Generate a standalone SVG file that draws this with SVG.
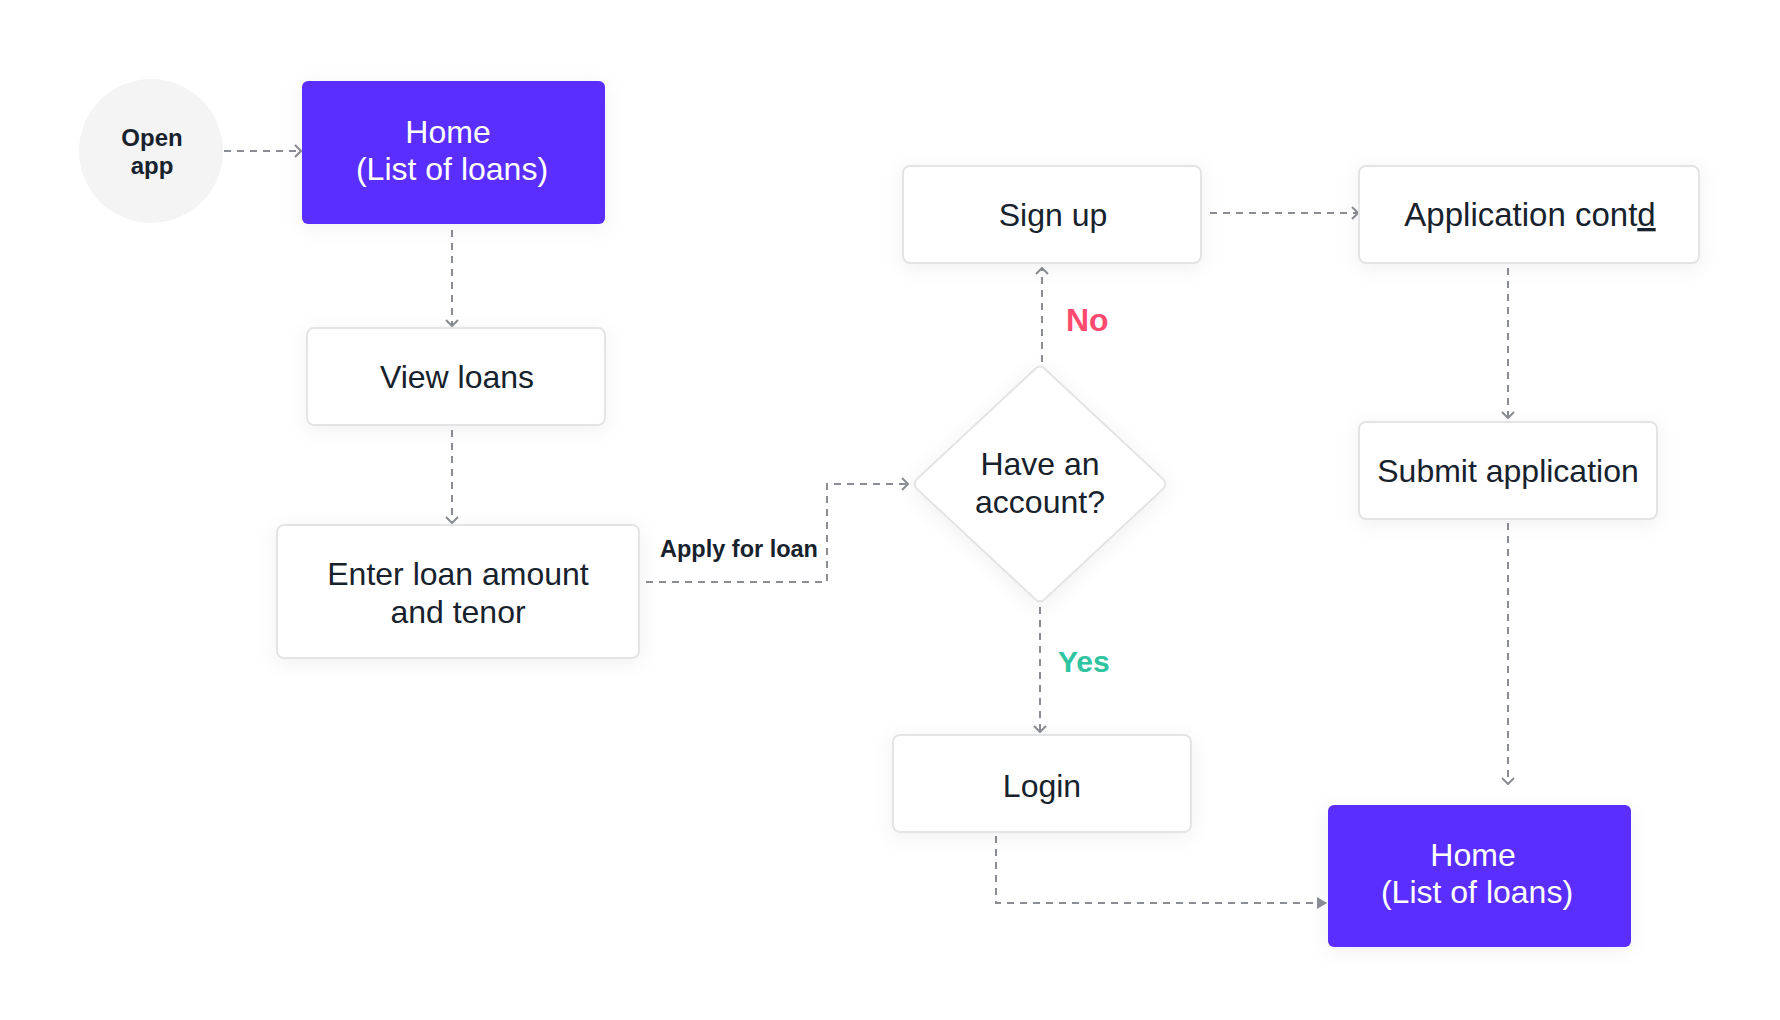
<svg xmlns="http://www.w3.org/2000/svg" width="1780" height="1020" viewBox="0 0 1780 1020">
  <defs>
    <filter id="shadow" x="-20%" y="-30%" width="140%" height="160%">
      <feDropShadow dx="0" dy="4" stdDeviation="10" flood-color="#000" flood-opacity="0.06"/>
    </filter>
    <marker id="chev" viewBox="0 0 8 14" refX="7" refY="7" markerWidth="8" markerHeight="14" markerUnits="userSpaceOnUse" orient="auto">
      <path d="M1,1 L7,7 L1,13" fill="none" stroke="#8A8D93" stroke-width="2" stroke-linejoin="miter"/>
    </marker>
    <marker id="tri" viewBox="0 0 10 12" refX="10" refY="6" markerWidth="10" markerHeight="12" markerUnits="userSpaceOnUse" orient="auto">
      <path d="M0,0 L10,6 L0,12 Z" fill="#8A8D93"/>
    </marker>
  </defs>
  <style>
    .box { fill: #FFFFFF; stroke: #E4E4E6; stroke-width: 2; filter: url(#shadow); }
    .primary { fill: #5A2EFF; filter: url(#shadow); }
    .lbl { font-family: "Liberation Sans", Arial, sans-serif; font-size: 32px; fill: #17222D; text-anchor: middle; }
    .wlbl { font-family: "Liberation Sans", Arial, sans-serif; font-size: 32px; fill: #FFFFFF; text-anchor: middle; }
    .bold { font-family: "Liberation Sans", Arial, sans-serif; font-weight: bold; fill: #17222D; }
    .conn { fill: none; stroke: #8A8D93; stroke-width: 2; stroke-dasharray: 7 6; }
  </style>
  <rect width="1780" height="1020" fill="#FFFFFF"/>

  <g id="connectors">
    <path class="conn" d="M224,151 H301" marker-end="url(#chev)"/>
    <path class="conn" d="M452,230 V326" marker-end="url(#chev)"/>
    <path class="conn" d="M452,430 V523" marker-end="url(#chev)"/>
    <path class="conn" d="M646,582 H827 V484 H908" marker-end="url(#chev)"/>
    <path class="conn" d="M1042,362 V268" marker-end="url(#chev)"/>
    <path class="conn" d="M1210,213 H1358" marker-end="url(#chev)"/>
    <path class="conn" d="M1508,268 V418" marker-end="url(#chev)"/>
    <path class="conn" d="M1508,523 V784" marker-end="url(#chev)"/>
    <path class="conn" d="M1040,607 V732" marker-end="url(#chev)"/>
    <path class="conn" d="M996,836 V903 H1327" marker-end="url(#tri)"/>
    <text class="bold" x="739" y="557" font-size="23.5" text-anchor="middle">Apply for loan</text>
    <text class="bold" x="1066" y="331" font-size="32" style="fill:#FF4B6E">No</text>
    <text class="bold" x="1058" y="672" font-size="30" style="fill:#2EC4A0">Yes</text>
  </g>

  <g id="open-app">
    <circle cx="151" cy="151" r="72" fill="#F4F4F5"/>
    <text class="bold" x="152" y="146" font-size="24" text-anchor="middle">Open</text>
    <text class="bold" x="152" y="174" font-size="24" text-anchor="middle">app</text>
  </g>

  <g id="home-1">
    <rect class="primary" x="302" y="81" width="303" height="143" rx="6"/>
    <text class="wlbl" x="448" y="143">Home</text>
    <text class="wlbl" x="452" y="180">(List of loans)</text>
  </g>

  <g id="view-loans">
    <rect class="box" x="307" y="328" width="298" height="97" rx="7"/>
    <text class="lbl" x="457" y="388">View loans</text>
  </g>

  <g id="enter-loan">
    <rect class="box" x="277" y="525" width="362" height="133" rx="7"/>
    <text class="lbl" x="458" y="585">Enter loan amount</text>
    <text class="lbl" x="458" y="623">and tenor</text>
  </g>

  <g id="have-account">
    <path class="box" d="M1035,369 Q1040,364 1045,369 L1163,479 Q1168,484 1163,489 L1045,599 Q1040,604 1035,599 L917,489 Q912,484 917,479 Z"/>
    <text class="lbl" x="1040" y="475">Have an</text>
    <text class="lbl" x="1040" y="513">account?</text>
  </g>

  <g id="sign-up">
    <rect class="box" x="903" y="166" width="298" height="97" rx="7"/>
    <text class="lbl" x="1053" y="226">Sign up</text>
  </g>

  <g id="application-contd">
    <rect class="box" x="1359" y="166" width="340" height="97" rx="7"/>
    <text class="lbl" x="1530" y="226" style="font-size:33px">Application cont<tspan text-decoration="underline">d</tspan></text>
  </g>

  <g id="submit-application">
    <rect class="box" x="1359" y="422" width="298" height="97" rx="7"/>
    <text class="lbl" x="1508" y="482">Submit application</text>
  </g>

  <g id="login">
    <rect class="box" x="893" y="735" width="298" height="97" rx="7"/>
    <text class="lbl" x="1042" y="797">Login</text>
  </g>

  <g id="home-2">
    <rect class="primary" x="1328" y="805" width="303" height="142" rx="6"/>
    <text class="wlbl" x="1473" y="866">Home</text>
    <text class="wlbl" x="1477" y="903">(List of loans)</text>
  </g>
</svg>
